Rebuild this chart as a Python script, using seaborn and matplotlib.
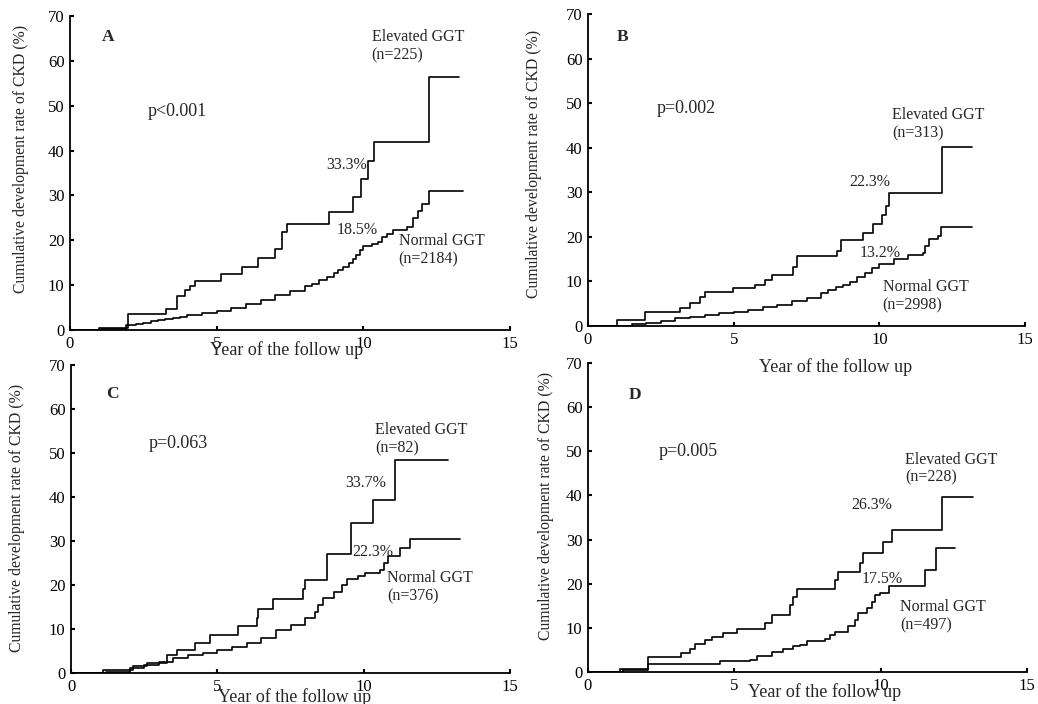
import matplotlib
matplotlib.use("Agg")
import matplotlib.pyplot as plt
import seaborn as sns
import pandas as pd

sns.set_theme(style="ticks")
plt.rcParams["font.family"] = ["Liberation Serif", "DejaVu Serif"]

# ---------------- data ----------------
# Panel A
a_elev_t = [0, 1.0, 1.99, 3.26, 3.64, 3.92, 4.09, 4.26, 5.14, 5.85, 6.42, 6.99, 7.22, 7.39,
            8.83, 9.66, 9.91, 10.17, 10.36, 12.25, 13.27]
a_elev_y = [0, 0.5, 3.5, 4.6, 7.6, 8.9, 9.8, 10.9, 12.5, 14.1, 16.1, 18.0, 21.8, 23.6,
            26.3, 29.7, 33.6, 37.7, 42.0, 56.5, 56.5]
a_norm_t = [0, 1.1, 1.9, 2.25, 2.5, 2.75, 3.0, 3.25, 3.5, 3.75, 4.0, 4.5, 5.0, 5.5, 6.0, 6.5,
            7.0, 7.5, 8.0, 8.25, 8.5, 8.75, 9.0, 9.15, 9.3, 9.5, 9.65, 9.75, 9.9, 10.0, 10.3,
            10.5, 10.65, 10.8, 11.0, 11.5, 11.7, 11.85, 12.0, 12.25, 13.39]
a_norm_y = [0, 0.3, 1.1, 1.3, 1.6, 1.9, 2.2, 2.4, 2.7, 3.0, 3.3, 3.8, 4.3, 5.0, 5.8, 6.6,
            7.7, 8.6, 9.7, 10.3, 11.1, 11.9, 12.6, 13.3, 14.0, 15.0, 15.9, 16.8, 17.8, 18.8, 19.2,
            19.7, 20.8, 21.5, 22.3, 23.0, 25.0, 26.5, 28.0, 31.0, 31.0]

# Panel B
b_elev_t = [0, 1.01, 1.95, 3.15, 3.49, 3.84, 4.0, 4.98, 5.73, 6.07, 6.3, 7.04, 7.16, 8.53,
            8.70, 9.45, 9.79, 10.08, 10.23, 10.34, 12.14, 13.17]
b_elev_y = [0, 1.35, 3.2, 4.0, 5.1, 6.6, 7.7, 8.5, 9.2, 10.3, 11.4, 13.3, 15.6, 16.9,
            19.3, 20.9, 22.9, 24.9, 26.9, 29.9, 40.1, 40.1]
b_norm_t = [0, 1.5, 2.0, 2.5, 3.0, 3.5, 4.0, 4.5, 5.0, 5.5, 6.0, 6.5, 7.0, 7.5, 8.0, 8.25,
            8.5, 8.75, 9.0, 9.25, 9.5, 9.75, 10.0, 10.5, 11.0, 11.5, 11.56, 11.7, 12.0, 12.1, 13.17]
b_norm_y = [0, 0.5, 0.75, 1.2, 1.7, 2.1, 2.5, 2.9, 3.2, 3.7, 4.3, 4.8, 5.5, 6.3, 7.3, 8.0,
            8.8, 9.3, 9.9, 10.9, 12.0, 13.0, 13.8, 15.0, 15.9, 16.3, 18.0, 19.5, 20.2, 22.1, 22.1]

# Panel C
c_elev_t = [0, 1.1, 2.13, 2.59, 3.27, 3.61, 4.24, 4.75, 5.72, 6.34, 6.4, 6.91, 7.94, 8.0,
            8.74, 9.56, 10.33, 11.07, 12.89]
c_elev_y = [0, 0.76, 1.5, 2.3, 4.0, 5.3, 6.8, 8.6, 10.6, 12.4, 14.6, 16.9, 19.0, 21.2,
            27.0, 34.2, 39.3, 48.4, 48.4]
c_norm_t = [0, 1.2, 2.0, 2.5, 3.0, 3.5, 4.0, 4.5, 5.0, 5.5, 6.0, 6.5, 7.0, 7.5, 8.0, 8.35,
            8.45, 8.6, 9.0, 9.25, 9.42, 9.8, 10.05, 10.56, 10.7, 10.84, 11.24, 11.58, 13.29]
c_norm_y = [0, 0.3, 1.2, 1.8, 2.5, 3.3, 4.0, 4.6, 5.3, 6.0, 6.9, 8.0, 9.7, 11.0, 12.5, 13.8,
            15.5, 17.0, 18.5, 20.0, 21.3, 22.0, 22.8, 23.5, 25.0, 26.5, 28.5, 30.5, 30.5]

# Panel D
d_elev_t = [0, 1.08, 2.05, 3.19, 3.48, 3.65, 3.99, 4.22, 4.62, 5.08, 6.05, 6.27, 6.90, 7.01,
            7.13, 8.44, 8.55, 9.3, 9.41, 10.09, 10.38, 12.09, 13.15]
d_elev_y = [0, 0.76, 3.3, 4.3, 5.3, 6.3, 7.2, 7.9, 8.9, 9.8, 11.0, 12.9, 15.1, 17.0,
            18.9, 20.8, 22.7, 24.6, 26.9, 29.5, 32.2, 39.7, 39.7]
d_norm_t = [0, 1.2, 2.05, 4.5, 5.53, 5.76, 6.27, 6.67, 7.01, 7.24, 7.47, 8.1, 8.27, 8.44,
            8.9, 9.13, 9.24, 9.52, 9.7, 9.81, 9.98, 10.3, 11.52, 11.9, 12.55]
d_norm_y = [0, 0.5, 1.9, 2.5, 2.7, 3.7, 4.5, 5.3, 5.9, 6.2, 7.0, 7.5, 8.3, 9.1,
            10.5, 11.8, 13.3, 14.5, 15.8, 17.5, 18.0, 19.5, 23.1, 28.0, 28.0]

panel_letters = ["A", "B", "C", "D"]
p_values = ["p<0.001", "p=0.002", "p=0.063", "p=0.005"]
elev_n = ["(n=225)", "(n=313)", "(n=82)", "(n=228)"]
norm_n = ["(n=2184)", "(n=2998)", "(n=376)", "(n=497)"]
elev_pct = ["33.3%", "22.3%", "33.7%", "26.3%"]
norm_pct = ["18.5%", "13.2%", "22.3%", "17.5%"]

x_ticks = [0, 5, 10, 15]
y_ticks = [0, 10, 20, 30, 40, 50, 60, 70]

# ---------------- layout ----------------
fig = plt.figure(figsize=(10.38, 7.04), dpi=100)
W, H = 1038, 704
boxes = [(70, 510, 16, 330), (588, 1025, 14, 326), (71, 510, 365, 673), (588, 1027, 363, 672)]
axes = [fig.add_axes([l / W, 1 - b / H, (r - l) / W, (b - t) / H]) for l, r, t, b in boxes]

curves = [(a_elev_t, a_elev_y, a_norm_t, a_norm_y),
          (b_elev_t, b_elev_y, b_norm_t, b_norm_y),
          (c_elev_t, c_elev_y, c_norm_t, c_norm_y),
          (d_elev_t, d_elev_y, d_norm_t, d_norm_y)]

pos = [
    dict(L=(1.3, 65.4), p=(2.65, 48.7), E=(10.28, 65.4), Ep=(8.75, 36.8), Np=(9.1, 22.3), N=(11.2, 19.9)),
    dict(L=(1.2, 64.9), p=(2.35, 48.8), E=(10.45, 47.3), Ep=(8.97, 32.4), Np=(9.31, 16.3), N=(10.11, 8.8)),
    dict(L=(1.4, 63.5), p=(2.64, 52.2), E=(10.39, 55.2), Ep=(9.36, 43.2), Np=(9.62, 27.4), N=(10.81, 21.6)),
    dict(L=(1.6, 62.8), p=(2.4, 50.0), E=(10.84, 48.1), Ep=(8.98, 37.8), Np=(9.35, 21.0), N=(10.66, 14.8)),
]
ylab_coords = [(-0.093, 0.545), (-0.105, 0.52), (-0.105, 0.503), (-0.077, 0.537)]
xlab_coords = [(0.493, -0.035), (0.567, -0.103), (0.51, -0.049), (0.54, -0.036)]

fs = 11.5
for i, ax in enumerate(axes):
    et, ey, nt, ny = curves[i]
    df_e = pd.DataFrame({"t": et, "y": ey})
    df_n = pd.DataFrame({"t": nt, "y": ny})
    sns.lineplot(data=df_e, x="t", y="y", ax=ax, color="black", lw=1.2,
                 drawstyle="steps-post", estimator=None, sort=False)
    sns.lineplot(data=df_n, x="t", y="y", ax=ax, color="black", lw=1.2,
                 drawstyle="steps-post", estimator=None, sort=False)
    ax.set_xlim(0, 15)
    ax.set_ylim(0, 70)
    ax.set_xticks(x_ticks)
    ax.set_yticks(y_ticks)
    ax.tick_params(direction="in", length=3, width=1.5, labelsize=12, pad=4, colors="black")
    sns.despine(ax=ax)
    for s in ("left", "bottom"):
        ax.spines[s].set_linewidth(1.3)
        ax.spines[s].set_color("black")
    ax.patch.set_visible(False)
    ax.set_ylabel("Cumulative development rate of CKD (%)", fontsize=11.3)
    ax.set_xlabel("Year of the follow up", fontsize=13)
    ax.yaxis.set_label_coords(*ylab_coords[i])
    ax.xaxis.set_label_coords(*xlab_coords[i])
    P = pos[i]
    ax.text(*P["L"], panel_letters[i], fontsize=12.5, fontweight="bold", ha="center", va="center")
    ax.text(*P["p"], p_values[i], fontsize=13, ha="left", va="center")
    ax.text(P["E"][0], P["E"][1], "Elevated GGT", fontsize=fs, ha="left", va="center")
    ax.text(P["E"][0], P["E"][1] - 4.1, elev_n[i], fontsize=fs, ha="left", va="center")
    ax.text(*P["Ep"], elev_pct[i], fontsize=fs, ha="left", va="center")
    ax.text(*P["Np"], norm_pct[i], fontsize=fs, ha="left", va="center")
    ax.text(P["N"][0], P["N"][1], "Normal GGT", fontsize=fs, ha="left", va="center")
    ax.text(P["N"][0], P["N"][1] - 4.2, norm_n[i], fontsize=fs, ha="left", va="center")

fig.savefig("out.png", dpi=100, facecolor="white")
